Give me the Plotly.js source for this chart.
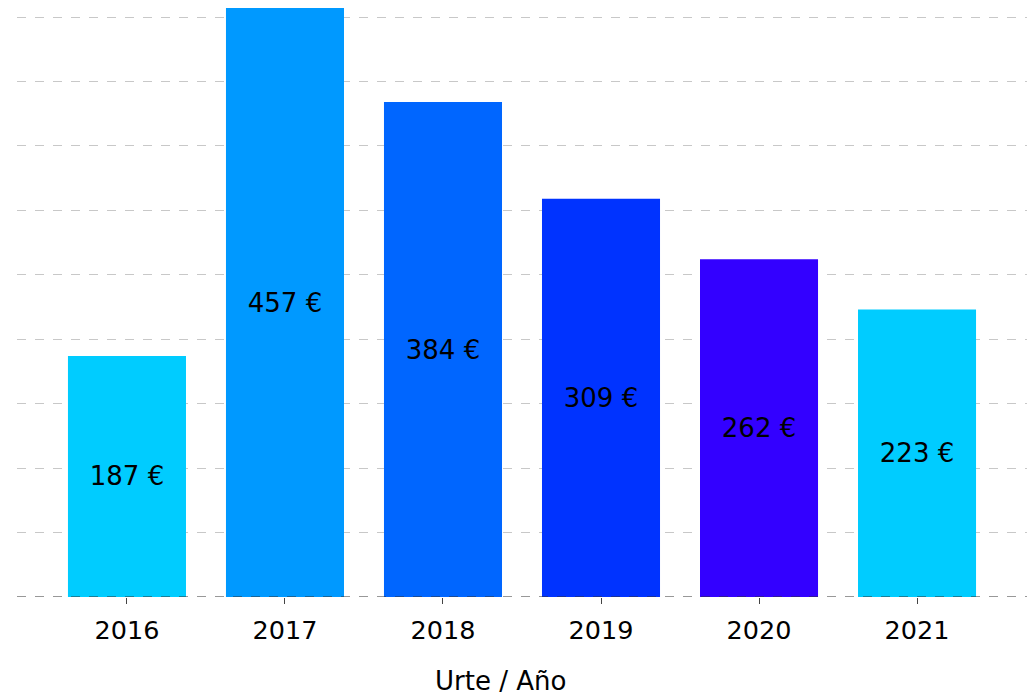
<!DOCTYPE html>
<html>
<head>
<meta charset="utf-8">
<script src="https://cdn.plot.ly/plotly-3.0.1.min.js"></script>
<style>html,body{margin:0;padding:0;background:#fff;}#chart{width:1035px;height:695px;}</style>
</head>
<body>
<div id="chart"></div>
<script>
const years = ["2016", "2017", "2018", "2019", "2020", "2021"];
const values = [187, 457, 384, 309, 262, 223];
const labels = ["187 €", "457 €", "384 €", "309 €", "262 €", "223 €"];
const barColors = ["#00CCFF", "#0099FF", "#0066FF", "#0033FF", "#3300FF", "#00CCFF"];
const xTitle = "Urte / Año";

const font = "DejaVu Sans, Verdana, sans-serif";

Plotly.newPlot("chart", [{
  type: "bar",
  x: years,
  y: values,
  text: labels,
  textposition: "inside",
  insidetextanchor: "middle",
  textfont: {family: font, size: 26, color: "#000"},
  marker: {color: barColors},
  hoverinfo: "none",
  cliponaxis: false
}], {
  width: 1035,
  height: 695,
  margin: {l: 17, r: 8, t: 8, b: 98},
  paper_bgcolor: "#fff",
  plot_bgcolor: "#fff",
  bargap: 0.253,
  showlegend: false,
  font: {family: font, color: "#000"},
  xaxis: {
    type: "category",
    range: [-0.696, 5.696],
    showgrid: false,
    ticks: "outside",
    ticklen: 6,
    tickcolor: "#444",
    ticklabelstandoff: 4,
    tickfont: {family: font, size: 25.5, color: "#000"},
    showline: false,
    zeroline: false
  },
  yaxis: {
    range: [0, 457],
    dtick: 50,
    showticklabels: false,
    showgrid: true,
    gridcolor: "#c8c8c8",
    griddash: "dash",
    gridwidth: 1,
    zeroline: false,
    showline: false
  },
  annotations: [{
    text: xTitle, xref: "paper", yref: "paper",
    x: (500 - 17) / 1010, y: -(681 - 597) / 589,
    xanchor: "center", yanchor: "middle", showarrow: false,
    font: {family: font, size: 26, color: "#000"}
  }],
  shapes: [{
    type: "line", xref: "paper", yref: "y", x0: 0, x1: 1, y0: 0, y1: 0,
    line: {color: "#333", width: 1.2, dash: "dash"}, layer: "above"
  }]
}, {staticPlot: true});
</script>
</body>
</html>
